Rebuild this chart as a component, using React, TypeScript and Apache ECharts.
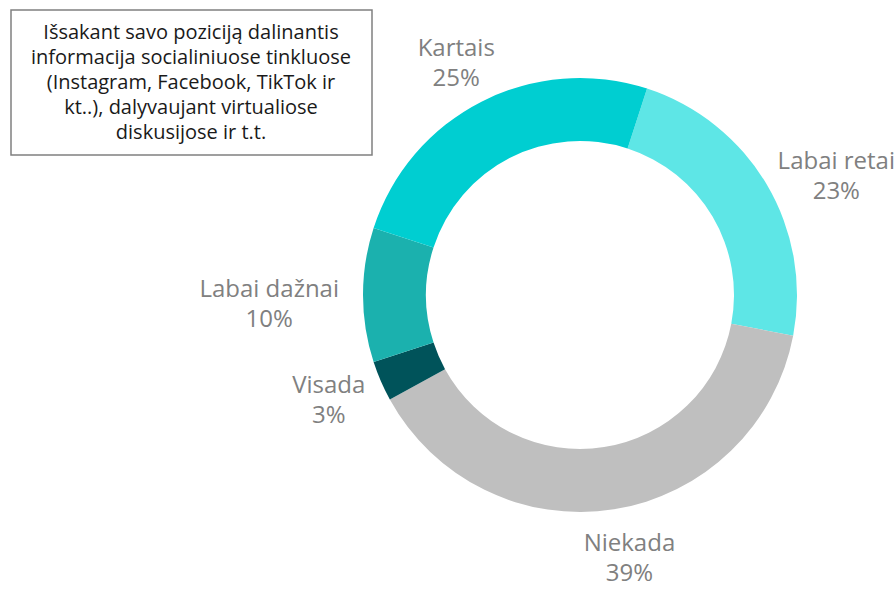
import React, { useEffect, useRef } from "react";
import * as echarts from "echarts";

const categories = ["Labai retai", "Niekada", "Visada", "Labai dažnai", "Kartais"];
const values = [23, 39, 3, 10, 25];
const colors = ["#5EE6E6", "#BFBFBF", "#00535A", "#1BB1AE", "#00CED1"];
const titleLines = [
  "Išsakant savo poziciją dalinantis",
  "informacija socialiniuose tinkluose",
  "(Instagram, Facebook, TikTok ir",
  "kt..), dalyvaujant virtualiose",
  "diskusijose ir t.t.",
];
// fine adjustments of the outside labels (layout only)
const labelNudges = [
  [-20, 5],
  [-40, 18],
  [17, 5],
  [11, 7],
  [32, -13],
];

export default function App() {
  const ref = useRef<HTMLDivElement>(null);
  useEffect(() => {
    document.body.style.margin = "0";
    const chart = echarts.init(ref.current!, null, { renderer: "svg" });
    chart.setOption({
      animation: false,
      backgroundColor: "#ffffff",
      graphic: [
        {
          type: "rect",
          shape: { x: 11, y: 10, width: 361, height: 145 },
          style: { fill: "#ffffff", stroke: "#808080", lineWidth: 1.5 },
        },
        {
          type: "text",
          x: 191,
          y: 81,
          style: {
            text: titleLines.join("\n"),
            fontSize: 20,
            fontFamily: "Open Sans",
            fill: "#1a1a1a",
            align: "center",
            verticalAlign: "middle",
            lineHeight: 25,
          },
        },
      ],
      series: [
        {
          type: "pie",
          center: [580, 295],
          radius: [154, 217],
          startAngle: 72,
          clockwise: true,
          avoidLabelOverlap: false,
          itemStyle: { borderWidth: 0 },
          label: {
            show: true,
            position: "outside",
            formatter: "{b}\n{d}%",
            color: "#808080",
            fontSize: 24,
            lineHeight: 30,
            fontFamily: "Open Sans",
          },
          labelLine: { show: false, length: 30, length2: 0 },
          labelLayout: (p: any) => {
            const n = labelNudges[p.dataIndex] || [0, 0];
            return {
              x: p.labelRect.x + p.labelRect.width / 2 + n[0],
              y: p.labelRect.y + p.labelRect.height / 2 + n[1],
              align: "center",
              verticalAlign: "middle",
            };
          },
          data: categories.map((c, i) => ({
            name: c,
            value: values[i],
            itemStyle: { color: colors[i] },
          })),
        },
      ],
    });
    return () => chart.dispose();
  }, []);
  return <div ref={ref} style={{ width: 895, height: 590 }} />;
}
